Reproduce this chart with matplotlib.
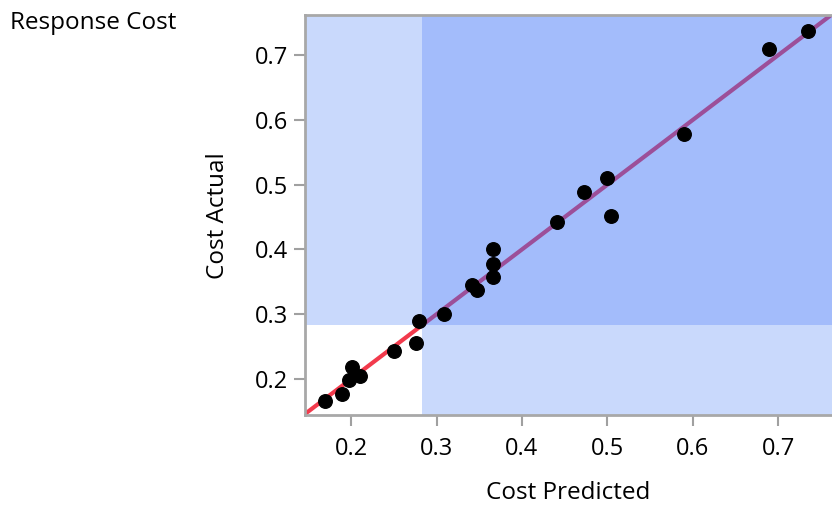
import matplotlib
matplotlib.use("Agg")
import matplotlib.pyplot as plt
import numpy as np

plt.rcParams['font.family'] = ['Open Sans', 'DejaVu Sans']

predicted = [0.170, 0.189, 0.197, 0.201, 0.210, 0.250, 0.276, 0.280, 0.309, 0.342, 0.347,
             0.366, 0.366, 0.366, 0.441, 0.473, 0.499, 0.504, 0.590, 0.689, 0.735]
actual = [0.166, 0.177, 0.198, 0.219, 0.204, 0.243, 0.255, 0.290, 0.300, 0.345, 0.337,
          0.357, 0.378, 0.401, 0.442, 0.488, 0.511, 0.452, 0.578, 0.709, 0.738]
threshold = 0.283
x_ticks = [0.2, 0.3, 0.4, 0.5, 0.6, 0.7]
y_ticks = [0.2, 0.3, 0.4, 0.5, 0.6, 0.7]
xlim = (0.146, 0.763)
ylim = (0.1444, 0.762)

fig = plt.figure(figsize=(8.32, 5.13), dpi=100)
ax = fig.add_axes([305/832, (513-415)/513, 1 - 305/832, (415-15)/513])
ax.set_xlim(*xlim)
ax.set_ylim(*ylim)

light = '#c9d9fc'
mid = '#a3bcfb'
ax.axvspan(xlim[0], threshold, ymin=0, ymax=1, color=light, lw=0, zorder=0)
ax.axhspan(ylim[0], threshold, color=light, lw=0, zorder=0)
ax.fill_between([threshold, xlim[1]], threshold, ylim[1], color=mid, lw=0, zorder=0.5)
ax.fill_between([xlim[0], threshold], ylim[0], threshold, color='white', lw=0, zorder=0.5)

ax.plot([xlim[0], threshold], [xlim[0], threshold], color='#f23a4c', lw=3, zorder=2,
        solid_capstyle='butt')
ax.plot([threshold, xlim[1]], [threshold, xlim[1]], color='#9c4f99', lw=3, zorder=2,
        solid_capstyle='butt')

ax.scatter(predicted, actual, s=95, color='black', zorder=3, clip_on=False)

ax.set_xticks(x_ticks)
ax.set_yticks(y_ticks)
ax.set_xticklabels([f'{v:.1f}' for v in x_ticks])
ax.set_yticklabels([f'{v:.1f}' for v in y_ticks])
ax.tick_params(axis='both', colors='#a0a0a0', labelcolor='black', labelsize=17,
               length=8, width=1.5)
ax.tick_params(axis='x', pad=8)
ax.tick_params(axis='y', pad=4)
for s in ['left', 'bottom', 'top']:
    ax.spines[s].set_color('#a8a8a8')
    ax.spines[s].set_linewidth(2)
ax.spines['right'].set_visible(False)

ax.set_xlabel('Cost Predicted', fontsize=17.5)
ax.set_ylabel('Cost Actual', fontsize=17.5)
ax.xaxis.set_label_coords((568-305)/527, (415-493)/400)
ax.yaxis.set_label_coords((218-305)/527, (415-216)/400)
ax.xaxis.label.set_va('center')
ax.yaxis.label.set_va('center')
fig.text(10/832, 1 - 23/513, 'Response Cost', fontsize=17.5, va='center', ha='left')

fig.savefig('out.png', dpi=100)
